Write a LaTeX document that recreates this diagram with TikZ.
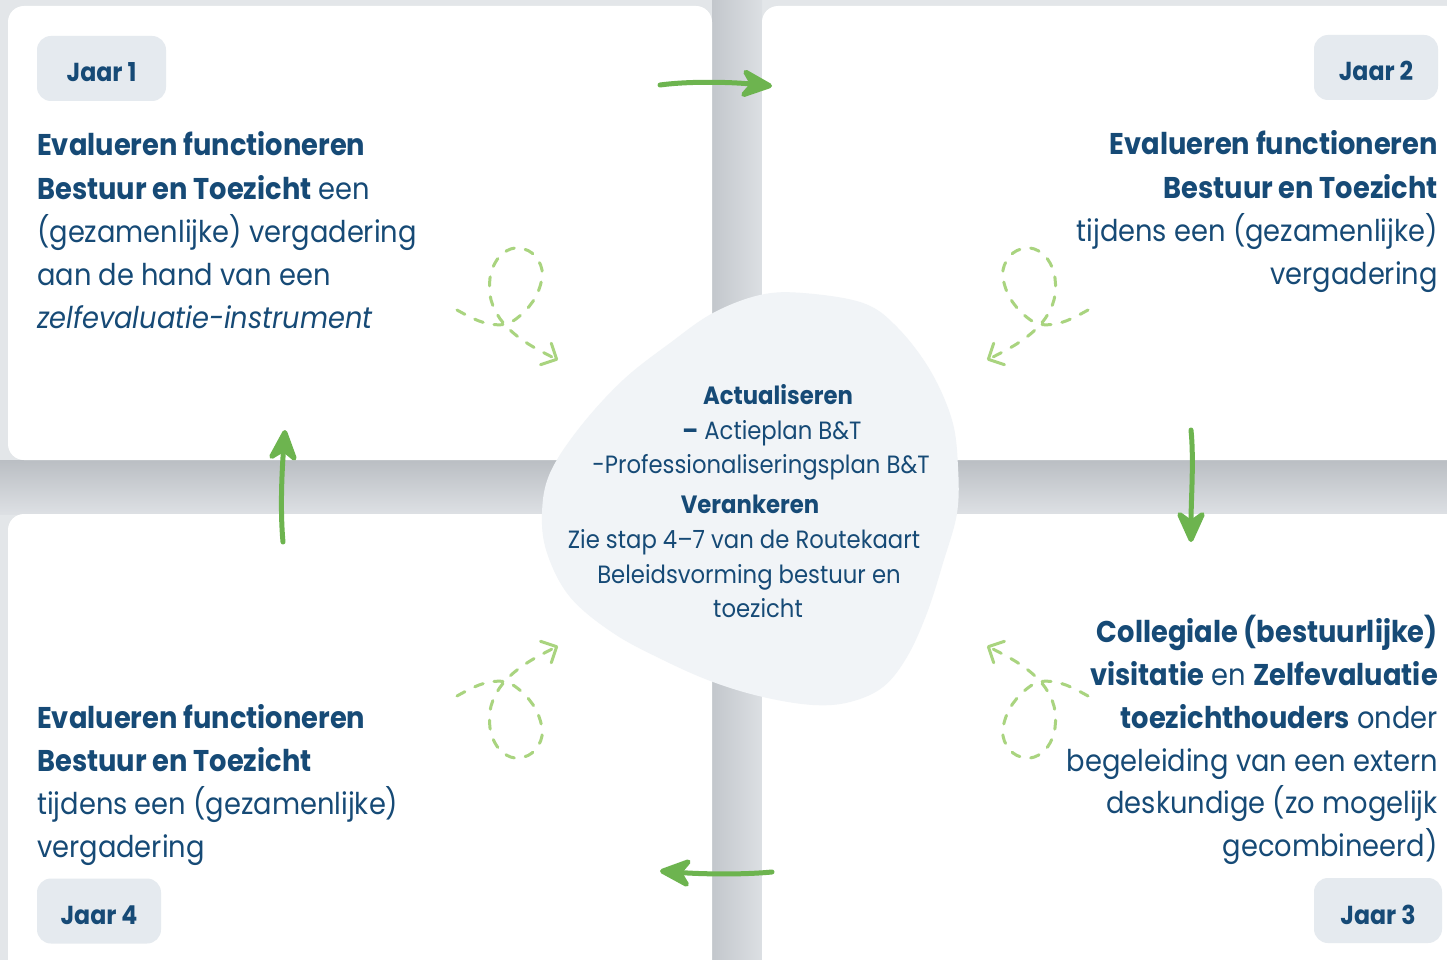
\documentclass[tikz,border=0pt]{standalone}
\usepackage{fontspec}
\setmainfont{Poppins}[FakeStretch=0.91]
\usetikzlibrary{arrows.meta}
\definecolor{bgc}{HTML}{E3E6E9}
\definecolor{shdark}{HTML}{BABEC3}
\definecolor{shlight}{HTML}{DDE0E4}
\definecolor{vdark}{HTML}{C3C7CC}
\definecolor{vlight}{HTML}{DCDFE3}
\definecolor{badgec}{HTML}{E5EAEF}
\definecolor{blobc}{HTML}{F1F4F7}
\definecolor{tc}{HTML}{164A76}
\definecolor{arrowc}{HTML}{6DB44F}
\definecolor{loopc}{HTML}{A9D47F}
\tikzset{
  card/.style={fill=white, rounded corners=16pt},
  txt/.style={inner sep=0pt, text=tc, font=\fontsize{30}{43}\selectfont},
  ctxt/.style={inner sep=0pt, text=tc, font=\fontsize{25}{35}\selectfont, anchor=base},
  badge/.style={fill=badgec, rounded corners=14pt, inner sep=0pt, text=tc,
    font=\fontsize{26}{30}\selectfont\bfseries, text height=27pt, text depth=0pt,
    minimum height=65pt},
  garrow/.style={draw=arrowc, line width=5pt, line cap=round,
    -{Stealth[length=38pt,width=34pt,inset=12pt,round]}},
  loopst/.style={draw=loopc, line width=3pt, line cap=round, dash pattern=on 9pt off 11pt,
    -{Straight Barb[length=12pt,width=24pt,line width=3pt,round]}}
}
\newcommand{\loopcurl}{%
  \draw[loopst] plot[smooth, tension=0.6] coordinates {(457,310) (482,322) (506,324) (525,311) (538,292) (542,270) (532,253) (515,248) (500,256) (491,273) (490,295) (497,314) (510,330) (530,345) (558,360)};}
\begin{document}
\begin{tikzpicture}[x=1pt,y=-1pt]
\useasboundingbox (0,0) rectangle (1447,960);
\begin{scope}
\clip (0,0) rectangle (1447,960);
\fill[bgc] (0,0) rectangle (1447,960);
\shade[left color=vdark, right color=vlight] (712,0) rectangle (762,960);
\shade[top color=shdark, bottom color=shlight] (0,460) rectangle (1447,514);
\fill[card] (8,6) rectangle (712,460);
\fill[card] (762,6) rectangle (1480,460);
\fill[card] (8,514) rectangle (712,990);
\fill[card] (762,514) rectangle (1480,990);
\end{scope}

% central blob
\fill[blobc] plot[smooth cycle, tension=0.6] coordinates {(803,293) (863,303) (897,327) (930,370) (952,420) (958,467) (957,513) (943,563) (927,613) (907,657) (883,687) (850,702) (813,705) (763,697) (713,682) (663,660) (613,633) (570,597) (547,553) (542,513) (550,473) (580,427) (623,380) (670,343) (713,313) (760,295)};

% badges
\node[badge, minimum width=129pt] (j1) at (101.5,68.5) {Jaar 1};
\node[badge, minimum width=124pt] (j2) at (1376,67.5) {Jaar 2};
\node[badge, minimum width=128pt] (j3) at (1378,910.5) {Jaar 3};
\node[badge, minimum width=124pt] (j4) at (99,911) {Jaar 4};

% top-left text
\node[txt, anchor=base west] (tl1) at (37,156) {\bfseries Evalueren functioneren};
\node[txt, anchor=base west] (tl2) at (37,199) {\textbf{Bestuur en Toezicht} een};
\node[txt, anchor=base west] (tl3) at (37,242) {(gezamenlijke) vergadering};
\node[txt, anchor=base west] (tl4) at (37,285) {aan de hand van een};
\node[txt, anchor=base west] (tl5) at (37,328) {\itshape zelfevaluatie-instrument};

% top-right text
\node[txt, anchor=base east] (tr1) at (1438,155) {\bfseries Evalueren functioneren};
\node[txt, anchor=base east] (tr2) at (1438,198) {\bfseries Bestuur en Toezicht};
\node[txt, anchor=base east] (tr3) at (1438,241) {tijdens een (gezamenlijke)};
\node[txt, anchor=base east] (tr4) at (1438,284) {vergadering};

% bottom-left text
\node[txt, anchor=base west] (bl1) at (37,728) {\bfseries Evalueren functioneren};
\node[txt, anchor=base west] (bl2) at (37,771) {\bfseries Bestuur en Toezicht};
\node[txt, anchor=base west] (bl3) at (37,814) {tijdens een (gezamenlijke)};
\node[txt, anchor=base west] (bl4) at (37,857) {vergadering};

% bottom-right text
\node[txt, anchor=base east] (br1) at (1438,642) {\bfseries Collegiale (bestuurlijke)};
\node[txt, anchor=base east] (br2) at (1438,685) {\textbf{visitatie} en \textbf{Zelfevaluatie}};
\node[txt, anchor=base east] (br3) at (1438,728) {\textbf{toezichthouders} onder};
\node[txt, anchor=base east] (br4) at (1438,771) {begeleiding van een extern};
\node[txt, anchor=base east] (br5) at (1438,813) {deskundige (zo mogelijk};
\node[txt, anchor=base east] (br6) at (1438,856) {gecombineerd)};

% center text
\node[ctxt] (c1) at (778,404) {\bfseries Actualiseren};
\node[ctxt] (c2) at (772,439) {\textbf{–} Actieplan B\&T};
\node[ctxt] (c3) at (761,473) {-Professionaliseringsplan B\&T};
\node[ctxt] (c4) at (750,513) {\bfseries Verankeren};
\node[ctxt] (c5) at (744,548) {Zie stap 4–7 van de Routekaart};
\node[ctxt] (c6) at (749,583) {Beleidsvorming bestuur en};
\node[ctxt] (c7) at (758,617) {toezicht};

% green arrows
\coordinate (a1s) at (660,85); \coordinate (a1e) at (772,86);
\coordinate (a2s) at (1191,430); \coordinate (a2e) at (1191,542);
\coordinate (a3s) at (772,872); \coordinate (a3e) at (660,871);
\coordinate (a4s) at (283,542); \coordinate (a4e) at (285,430);
\draw[garrow] (a1s) .. controls (690,81) and (730,82) .. (a1e);
\draw[garrow] (a2s) .. controls (1194,460) and (1191,500) .. (a2e);
\draw[garrow] (a3s) .. controls (740,875) and (700,874) .. (a3e);
\draw[garrow] (a4s) .. controls (280,510) and (282,470) .. (a4e);

% dashed curls
\loopcurl
\begin{scope}[xshift=1545pt, xscale=-1]\loopcurl\end{scope}
\begin{scope}[yshift=-1006pt, yscale=-1]\loopcurl\end{scope}
\begin{scope}[xshift=1545pt, yshift=-1006pt, xscale=-1, yscale=-1]\loopcurl\end{scope}
\end{tikzpicture}
\end{document}
